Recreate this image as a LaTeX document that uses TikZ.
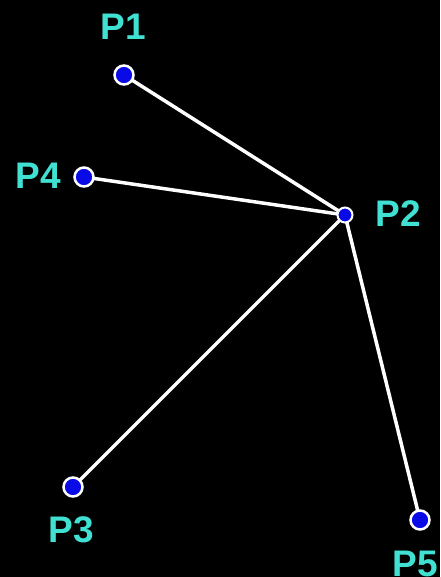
\documentclass[tikz,border=0pt]{standalone}
\usepackage{fontspec}
\setmainfont{Liberation Sans}
\definecolor{lbl}{RGB}{64,224,210}
\definecolor{dotblue}{RGB}{10,10,230}
\begin{document}
\begin{tikzpicture}[x=1pt,y=-1pt,
  pt/.style={circle,fill=dotblue,draw=white,line width=2.5pt,minimum size=19pt,inner sep=0pt},
  ptsmall/.style={circle,fill=dotblue,draw=white,line width=2pt,minimum size=15pt,inner sep=0pt},
  lab/.style={text=lbl,font=\bfseries\fontsize{37}{37}\selectfont,inner sep=0pt},
  seg/.style={draw=white,line width=3.5pt}]
\fill[black] (0,0) rectangle (440,577);
\useasboundingbox (0,0) rectangle (440,577);
\coordinate (p1) at (124,75);
\coordinate (p2) at (345,215);
\coordinate (p4) at (84,177);
\coordinate (p3) at (73,487);
\coordinate (p5) at (420,520);
\draw[seg] (p1) -- (p2);
\draw[seg] (p4) -- (p2);
\draw[seg] (p3) -- (p2);
\draw[seg] (p5) -- (p2);
\node[pt] (d1) at (p1) {};
\node[ptsmall] (d2) at (p2) {};
\node[pt] (d4) at (p4) {};
\node[pt] (d3) at (p3) {};
\node[pt] (d5) at (p5) {};
\node[lab] (l1) at (123,27) {P1};
\node[lab] (l2) at (398,214) {P2};
\node[lab] (l4) at (38,176) {P4};
\node[lab] (l3) at (71,530) {P3};
\node[lab] (l5) at (415,564) {P5};
\end{tikzpicture}
\end{document}
